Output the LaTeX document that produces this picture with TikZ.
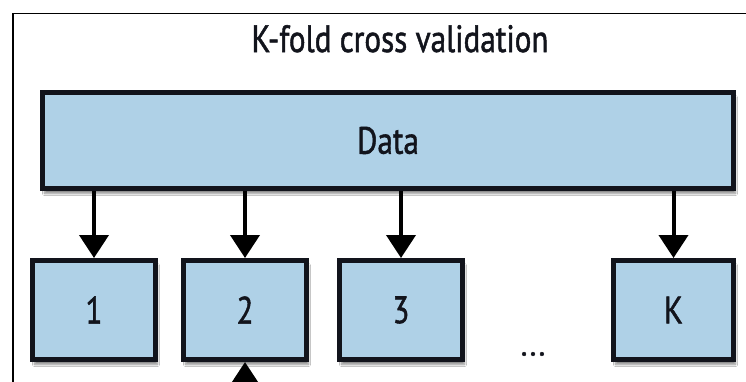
\documentclass[tikz,border=0pt]{standalone}
\usepackage{fontspec}
\setmainfont{PT Sans}[BoldFont=PT Sans, BoldFeatures={FakeBold=1.4}]
\usetikzlibrary{arrows.meta,shadows.blur}
\definecolor{foldblue}{RGB}{175,209,231}
\definecolor{inkdark}{RGB}{18,20,28}
\newcommand{\narrowtxt}[1]{\scalebox{0.82}[1]{#1}}
\tikzset{
  labelfont/.style={font=\fontsize{38}{40}\selectfont\bfseries, text=inkdark},
  box/.style={draw=inkdark, line width=5pt, fill=foldblue, inner sep=0pt, labelfont,
    blur shadow={shadow xshift=2pt, shadow yshift=-5pt, shadow blur steps=6, shadow opacity=45}},
  fold/.style={box, minimum width=123pt, minimum height=99pt},
  arr/.style={draw=black, line width=4pt, -{Triangle[width=29pt,length=23pt]}},
  frameline/.style={draw=black, line width=1.6pt}
}
\begin{document}
\begin{tikzpicture}[x=1pt,y=-1pt]
\useasboundingbox (0,0) rectangle (746,381);
\clip (0,0) rectangle (746,381);
\fill[white] (0,0) rectangle (746,381);
% outer frame, open towards the right and bottom
\draw[frameline] (13,400) -- (13,13.5) -- (760,13.5);
% title
\node[anchor=base, labelfont] (title) at (400,52) {\narrowtxt{K-fold cross validation}};
% data block
\node[box, minimum width=691pt, minimum height=96pt] (data) at (388,140.5) {\narrowtxt{Data}};
% folds
\node[fold] (f1) at (94,310) {\narrowtxt{1}};
\node[fold] (f2) at (245,310) {\narrowtxt{2}};
\node[fold] (f3) at (401,310) {\narrowtxt{3}};
\node[fold, minimum width=120pt] (fk) at (673.5,310) {\narrowtxt{K}};
\node[font=\fontsize{32}{34}\selectfont\bfseries, text=inkdark] (dots) at (533,354) {...};
% splits
\draw[arr] (f1 |- data.south) -- (f1.north);
\draw[arr] (f2 |- data.south) -- (f2.north);
\draw[arr] (f3 |- data.south) -- (f3.north);
\draw[arr] (fk |- data.south) -- (fk.north);
% incoming arrow below fold 2
\coordinate (below) at (245,420);
\draw[arr] (below) -- (f2.south);
\end{tikzpicture}
\end{document}
